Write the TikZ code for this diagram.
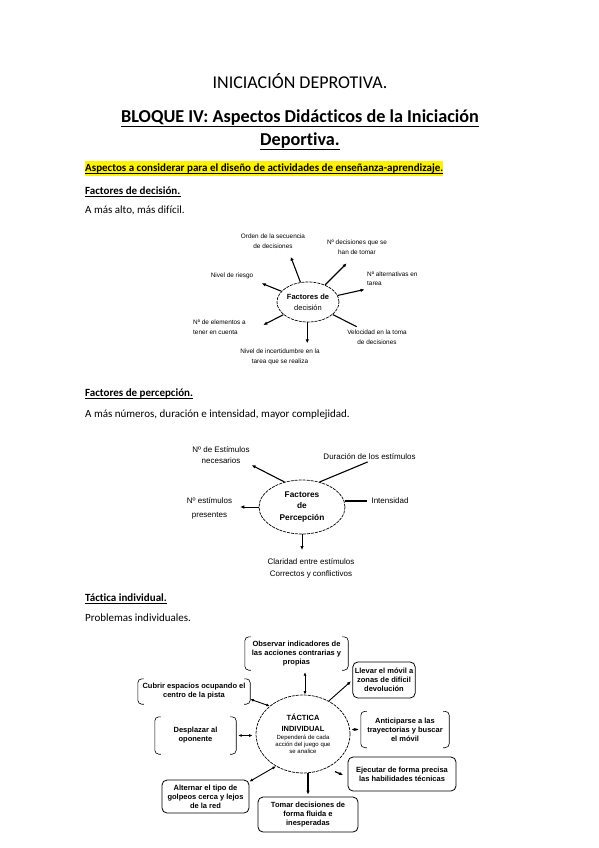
\documentclass[tikz,border=0pt]{standalone}
\usepackage{fontspec}
\setmainfont{Carlito}[Ligatures=NoCommon]
\newfontfamily\diagfont{Liberation Sans}
\usetikzlibrary{shapes.geometric,arrows.meta}
\def\corchetes#1{%
  \draw[brk] ([xshift=6pt]#1.north west) -- (#1.north west) -- (#1.south west) -- ([xshift=6pt]#1.south west);
  \draw[brk] ([xshift=-6pt]#1.north east) -- (#1.north east) -- (#1.south east) -- ([xshift=-6pt]#1.south east);}
\tikzset{
  body/.style={anchor=base west, inner sep=0pt, font=\fontsize{11}{13}\selectfont},
  lbl/.style={font=\diagfont\fontsize{6.4}{9.5}\selectfont, align=center, inner sep=1pt},
  plbl/.style={font=\diagfont\fontsize{8}{11}\selectfont, align=center, inner sep=1pt},
  tbox/.style={font=\diagfont\bfseries\fontsize{7.5}{9}\selectfont, align=center, inner sep=2pt},
  solidbox/.style={tbox, draw, rounded corners=5pt, line width=0.8pt},
  hub/.style={ellipse, draw, dash pattern=on 3pt off 1pt, line width=0.7pt, inner sep=0pt, align=center},
  arr/.style={-{Latex[length=4pt,width=3.5pt]}, line width=1.1pt},
  dbl/.style={{Latex[length=3.5pt,width=3pt]}-{Latex[length=3.5pt,width=3pt]}, line width=0.9pt},
  brk/.style={rounded corners=4pt, line width=0.6pt},
}
\begin{document}
\begin{tikzpicture}[x=1pt,y=-1pt]
			\useasboundingbox (0,0) rectangle (599,848);
			
			%%%%% HEADER %%%%%
			\node[anchor=base, inner sep=0pt, font=\fontsize{18}{22}\selectfont] (titulo) at (300,89) {INICIACIÓN DEPROTIVA.};
			\node[anchor=base, inner sep=0pt, font=\bfseries\fontsize{18.2}{22}\selectfont] (bloque) at (300,123) {BLOQUE IV: Aspectos Didácticos de la Iniciación};
			\node[anchor=base, inner sep=0pt, font=\bfseries\fontsize{18.2}{22}\selectfont] (deport) at (300,146) {Deportiva.};
			\draw[line width=1.2pt] ([yshift=-3.5pt]bloque.base west) -- ([yshift=-3.5pt]bloque.base east);
			\draw[line width=1.2pt] ([yshift=-3.5pt]deport.base west) -- ([yshift=-3.5pt]deport.base east);
			
			\node[body, font=\bfseries\fontsize{11}{13}\selectfont, fill=yellow, text height=9pt, text depth=3pt, inner ysep=1.5pt] (aspectos) at (85,171) {Aspectos a considerar para el diseño de actividades de enseñanza-aprendizaje.};
			\draw[line width=0.6pt] ([yshift=-2pt]aspectos.base west) -- ([yshift=-2pt]aspectos.base east);
			
			%%%%% DECISION %%%%%
			\node[body, font=\bfseries\fontsize{11}{13}\selectfont] (tdec) at (85,194) {Factores de decisión.};
			\draw[line width=0.6pt] ([yshift=-2pt]tdec.base west) -- ([yshift=-2pt]tdec.base east);
			\node[body] (sdec) at (85,213.5) {A más alto, más difícil.};
			
			\node[hub, minimum width=62pt, minimum height=40pt, font=\diagfont\fontsize{7.5}{11}\selectfont] (dec) at (308,302) {\textbf{Factores de}\\decisión};
			
			\node[lbl] (orden) at (273,241) {Orden de la secuencia\\de decisiones};
			\node[lbl] (ndecis) at (357,247) {Nº decisiones que se\\han de tomar};
			\node[lbl] (riesgo) at (232,276) {Nivel de riesgo};
			\node[lbl, anchor=west, align=left] (nalter) at (366,278.5) {Nº alternativas en\\tarea};
			\node[lbl, anchor=west, align=left] (nelem) at (192,327) {Nº de elementos a\\tener en cuenta};
			\node[lbl] (veloc) at (377,337) {Velocidad en la toma\\de decisiones};
			\node[lbl] (incert) at (280,357) {Nivel de incertidumbre en la\\tarea que se realiza};
			
			\coordinate (dec-orden) at (290.7,256.7);
			\coordinate (dec-ndecis) at (346.7,263.3);
			\coordinate (dec-riesgo) at (261.7,283.3);
			\coordinate (dec-nalter) at (364.5,289.5);
			\coordinate (dec-nelem) at (263.3,325);
			\coordinate (dec-veloc) at (356.7,326.7);
			\coordinate (dec-incert) at (307.3,343.3);
			
			\draw[arr] (dec) -- (dec-orden);
			\draw[arr] (dec) -- (dec-ndecis);
			\draw[arr] (dec) -- (dec-riesgo);
			\draw[arr] (dec) -- (dec-nalter);
			\draw[arr] (dec) -- (dec-nelem);
			\draw[line width=1.1pt] (dec) -- (dec-veloc);
			\draw[arr] (dec.south -| dec-incert) -- (dec-incert);
			
			%%%%% PERCEPCION %%%%%
			\node[body, font=\bfseries\fontsize{11}{13}\selectfont] (tper) at (85,396.5) {Factores de percepción.};
			\draw[line width=0.6pt] ([yshift=-2pt]tper.base west) -- ([yshift=-2pt]tper.base east);
			\node[body] (sper) at (85,417) {A más números, duración e intensidad, mayor complejidad.};
			
			\node[hub, minimum width=86pt, minimum height=54pt, font=\diagfont\bfseries\fontsize{8.3}{11.5}\selectfont] (perc) at (302,507) {Factores\\de\\Percepción};
			
			\node[plbl] (nestim) at (221,455) {Nº de Estímulos\\necesarios};
			\node[plbl] (durac) at (369.5,457) {Duración de los estímulos};
			\node[plbl] (intens) at (390,501) {Intensidad};
			\node[plbl, font=\diagfont\fontsize{8}{14}\selectfont] (npres) at (209.5,508) {Nº estímulos\\presentes};
			\node[plbl, font=\diagfont\fontsize{8}{12}\selectfont] (clarid) at (311,568) {Claridad entre estímulos\\Correctos y conflictivos};
			
			\draw[arr, shorten >=1pt] (perc.125) -- (nestim.south east);
			\draw[line width=1.1pt, shorten >=2pt] (perc.55) -- (durac.south);
			\draw[line width=1.8pt, shorten >=3pt] (intens.west -| perc.east) -- (intens.west);
			\draw[arr, line width=0.6pt, shorten >=7pt] (perc.west) -- (perc.west -| npres.east);
			\draw[arr, line width=0.8pt, shorten >=7pt] (perc.south) -- (perc.south |- clarid.north);
			
			%%%%% TACTICA %%%%%
			\node[body, font=\bfseries\fontsize{11}{13}\selectfont] (ttac) at (85,601.5) {Táctica individual.};
			\draw[line width=0.6pt] ([yshift=-2pt]ttac.base west) -- ([yshift=-2pt]ttac.base east);
			\node[body] (stac) at (85,621.5) {Problemas individuales.};
			
			\node[hub, minimum width=94pt, minimum height=78pt, font=\diagfont\fontsize{6}{7.3}\selectfont] (tactica) at (303,734) {{\bfseries\fontsize{7.5}{7.3}\selectfont TÁCTICA}\\[3.5pt]{\bfseries\fontsize{7.5}{7.3}\selectfont INDIVIDUAL}\\[0.5pt]Dependerá de cada\\acción del juego que\\se analice};
			
			\node[tbox, minimum width=103pt, minimum height=33pt] (observ) at (296.5,653.5) {Observar indicadores de\\las acciones contrarias y\\propias};
			\node[solidbox, minimum width=62pt, minimum height=36pt] (llevar) at (384,680) {Llevar el móvil a\\zonas de difícil\\devolución};
			\node[tbox, minimum width=112pt, minimum height=25pt] (cubrir) at (194,691.5) {Cubrir espacios ocupando el\\centro de la pista};
			\node[tbox, minimum width=81pt, minimum height=37pt] (despl) at (195.5,735.5) {Desplazar al\\oponente};
			\node[tbox, minimum width=88pt, minimum height=36pt] (antic) at (405,729.5) {Anticiparse a las\\trayectorias y buscar\\el móvil};
			\node[solidbox, minimum width=108pt, minimum height=34pt] (ejecut) at (402,774) {Ejecutar de forma precisa\\las habilidades técnicas};
			\node[solidbox, minimum width=87pt, minimum height=33pt] (altern) at (205.5,796.5) {Alternar el tipo de\\golpeos cerca y lejos\\de la red};
			\node[solidbox, minimum width=100pt, minimum height=35pt] (tomar) at (308,814.5) {Tomar decisiones de\\forma fluida e\\inesperadas};
			
			\corchetes{observ}
			\corchetes{cubrir}
			\corchetes{despl}
			\corchetes{antic}
			
			\draw[dbl, shorten <=2pt] ([xshift=8.5pt]observ.south) -- ([xshift=2pt]tactica.north);
			\draw[arr, line width=0.9pt, shorten >=2pt] (tactica.52) -- (llevar.west);
			\draw[dbl] (tactica.140) -- ([yshift=5pt]cubrir.south east);
			\draw[dbl, shorten <=2pt, shorten >=3pt] (despl.east) -- (despl.east -| tactica.west);
			\draw[dbl, shorten <=1pt, shorten >=2pt] (antic.west -| tactica.east) -- (antic.west);
			\draw[arr, line width=1.2pt, shorten <=9pt, shorten >=5pt] (tactica.-55) -- ([yshift=-3pt]ejecut.west);
			\draw[dbl] (tactica.-130) -- ([yshift=-2pt]altern.north east);
			\draw[arr, line width=1.5pt, shorten >=2pt] (tactica.south -| tomar.north) -- (tomar.north);
			
\end{tikzpicture}
\end{document}
